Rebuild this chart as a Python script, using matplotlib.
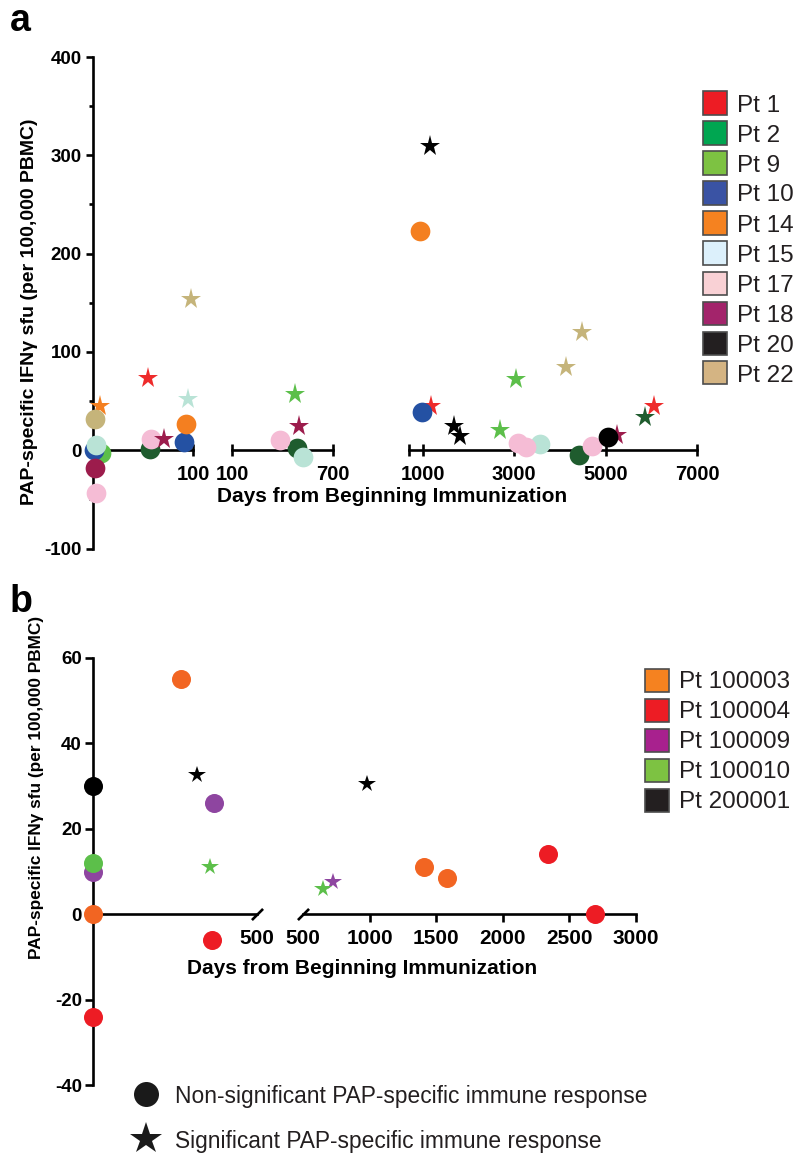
import matplotlib
matplotlib.use('Agg')
import matplotlib.pyplot as plt
from matplotlib.patches import Rectangle
from matplotlib.lines import Line2D

plt.rcParams['font.family'] = ['Liberation Sans', 'DejaVu Sans']
plt.rcParams['axes.unicode_minus'] = False

W, H = 800, 1157

# ---- panel a data ----
patients_a = ['Pt 1', 'Pt 2', 'Pt 9', 'Pt 10', 'Pt 14', 'Pt 15', 'Pt 17', 'Pt 18', 'Pt 20', 'Pt 22']
legend_colors_a = ['#ed1c24', '#00a651', '#7dc242', '#3a53a4', '#f58220',
                   '#dcf0fb', '#f9d1d5', '#a3246b', '#231f20', '#d4b483']
point_colors_a = ['#ee2b2b', '#1f5c2e', '#5cbf4a', '#2451a3', '#f47f20',
                  '#b9e3d6', '#f5bcd5', '#9c1c4c', '#000000', '#c5b47a']
days_a = [
    [55, 1190, 6060],
    [57, 486, 4425, 5860],
    [8, 474, 2700, 3050],
    [1, 91, 993],
    [7, 93, 934],
    [3, 95, 522, 3560],
    [3, 58, 385, 3087, 3270, 4695],
    [2, 71, 498, 5255],
    [1169, 1680, 1826, 5060],
    [2, 98, 4130, 4475],
]
sfu_a = [
    [73, 45, 45],
    [1, 2, -5, 34],
    [-3, 57, 21, 72],
    [0, 8, 39],
    [45, 27, 223],
    [5, 52, -7, 6],
    [-44, 11, 10, 7, 3, 4],
    [-18, 11, 25, 15],
    [309, 25, 14, 13],
    [32, 154, 85, 120],
]
sig_a = [
    [1, 1, 1],
    [0, 0, 0, 1],
    [0, 1, 1, 1],
    [0, 0, 0],
    [1, 0, 0],
    [0, 1, 0, 0],
    [0, 0, 0, 0, 0, 0],
    [0, 1, 1, 1],
    [1, 1, 1, 0],
    [0, 1, 1, 1],
]
segments_a = [(0, 100), (100, 700), (700, 7000)]
xticks_a = [[100], [100, 700], [700, 1000, 3000, 5000, 7000]]
xticklabels_a = [['100'], ['100', '700'], ['', '1000', '3000', '5000', '7000']]

# ---- panel b data ----
patients_b = ['Pt 100003', 'Pt 100004', 'Pt 100009', 'Pt 100010', 'Pt 200001']
legend_colors_b = ['#f58220', '#ed1c24', '#a8218e', '#7dc242', '#231f20']
point_colors_b = ['#f26522', '#ed1c24', '#8e45a0', '#5cbf4a', '#000000']
days_b = [
    [0, 268, 1407, 1582],
    [0, 363, 2342, 2689],
    [0, 370, 727],
    [0, 357, 648],
    [0, 316, 982],
]
sfu_b = [
    [0, 55, 11, 8.5],
    [-24, -6, 14, 0],
    [10, 26, 7.5],
    [12, 11, 6],
    [30, 32.5, 30.5],
]
sig_b = [
    [0, 0, 0, 0],
    [0, 0, 0, 0],
    [0, 0, 1],
    [0, 1, 1],
    [0, 1, 1],
]
segments_b = [(0, 500), (500, 3000)]
xticks_b = [[500], [500, 1000, 1500, 2000, 2500, 3000]]

ylabel_txt = 'PAP-specific IFNγ sfu (per 100,000 PBMC)'
xlabel_txt = 'Days from Beginning Immunization'


fig = plt.figure(figsize=(W / 100, H / 100), dpi=100)


def px_axes(x0, x1, ytop, ybot):
    return fig.add_axes([x0 / W, 1 - ybot / H, (x1 - x0) / W, (ybot - ytop) / H])


def style_axes(ax, first):
    ax.patch.set_visible(False)
    for s in ['top', 'right']:
        ax.spines[s].set_visible(False)
    ax.spines['bottom'].set_position(('data', 0))
    ax.spines['bottom'].set_linewidth(1.9)
    ax.spines['left'].set_linewidth(1.9)
    if not first:
        ax.spines['left'].set_visible(False)
        ax.tick_params(axis='y', left=False, labelleft=False, which='both')


# ---- panel a ----
seg_px_a = [(93, 193), (232, 333), (409, 697)]
axes_a = []
for k in range(3):
    ax = px_axes(seg_px_a[k][0], seg_px_a[k][1], 57, 548.5)
    ax.set_xlim(segments_a[k])
    ax.set_ylim(-100, 400)
    style_axes(ax, k == 0)
    ax.set_xticks(xticks_a[k])
    ax.set_xticklabels(xticklabels_a[k], fontsize=14.5, fontweight='bold')
    ax.tick_params(axis='x', direction='inout', length=8, width=1.9, pad=7)
    axes_a.append(ax)

axes_a[0].set_yticks(range(-100, 401, 100))
axes_a[0].set_yticks(range(-50, 401, 100), minor=True)
axes_a[0].tick_params(axis='y', which='major', direction='out', length=5, width=1.9, pad=3,
                      labelsize=13.5)
axes_a[0].tick_params(axis='y', which='minor', direction='out', length=3, width=1.9)
for lab in axes_a[0].get_yticklabels():
    lab.set_fontweight('bold')

for i in range(len(patients_a)):
    for d, v, s in zip(days_a[i], sfu_a[i], sig_a[i]):
        k = 0 if d <= 100 else (1 if d <= 700 else 2)
        axes_a[k].plot([d], [v], marker='*' if s else 'o', ms=15.5 if s else 14.2,
                       color=point_colors_a[i], mew=0, ls='none', clip_on=False, zorder=3)

# ---- panel b ----
seg_px_b = [(93, 257), (303, 636)]
axes_b = []
for k in range(2):
    ax = px_axes(seg_px_b[k][0], seg_px_b[k][1], 658, 1085)
    ax.set_xlim(segments_b[k])
    ax.set_ylim(-40, 60)
    style_axes(ax, k == 0)
    ax.set_xticks(xticks_b[k])
    ax.set_xticklabels([str(t) for t in xticks_b[k]], fontsize=15, fontweight='bold')
    ax.tick_params(axis='x', direction='out', length=6, width=1.9, pad=5)
    ax.xaxis.get_major_ticks()[0].tick1line.set_visible(False)
    # axis break slash
    ax.plot([500], [0], marker=[(-1, -1), (1, 1)], ms=8, mec='k', mew=1.9,
            ls='none', clip_on=False, zorder=4)
    axes_b.append(ax)

axes_b[0].set_yticks(range(-40, 61, 20))
axes_b[0].tick_params(axis='y', direction='out', length=6, width=1.9, pad=2, labelsize=13.5)
for lab in axes_b[0].get_yticklabels():
    lab.set_fontweight('bold')

for i in range(len(patients_b)):
    for d, v, s in zip(days_b[i], sfu_b[i], sig_b[i]):
        k = 0 if d <= 500 else 1
        axes_b[k].plot([d], [v], marker='*' if s else 'o', ms=13 if s else 13.7,
                       color=point_colors_b[i], mew=0, ls='none', clip_on=False, zorder=3)

# ---- labels ----
fig.text(10 / W, 1 - 31 / H, 'a', fontsize=27, fontweight='bold', va='baseline')
fig.text(10 / W, 1 - 612 / H, 'b', fontsize=27, fontweight='bold', va='baseline')
fig.text(392 / W, 1 - 502 / H, xlabel_txt, fontsize=15, fontweight='bold',
         ha='center', va='baseline')
fig.text(362 / W, 1 - 974 / H, xlabel_txt, fontsize=15, fontweight='bold',
         ha='center', va='baseline')
fig.text(30 / W, 1 - 312 / H, ylabel_txt, fontsize=14, fontweight='bold',
         rotation=90, ha='center', va='center')
fig.text(37 / W, 1 - 787 / H, ylabel_txt, fontsize=12.4, fontweight='bold',
         rotation=90, ha='center', va='center')


# ---- colour legends ----
def color_legend(names, colors, x0, y0, step):
    for i, (n, c) in enumerate(zip(names, colors)):
        yc = y0 + i * step
        fig.add_artist(Rectangle((x0 / W, 1 - (yc + 11.5) / H), 24 / W, 23 / H,
                                 transform=fig.transFigure, facecolor=c,
                                 edgecolor='#4d4d4d', lw=1.2))
        fig.text((x0 + 34) / W, 1 - yc / H, n, fontsize=17.5, color='#231f20',
                 va='center_baseline')


color_legend(patients_a, legend_colors_a, 703, 103, 30)
color_legend(patients_b, legend_colors_b, 645, 680, 30)

# ---- marker legend ----
fig.add_artist(Line2D([146 / W], [1 - 1094 / H], marker='o', ms=18, color='#1a1a1a',
                      mew=0, transform=fig.transFigure))
fig.add_artist(Line2D([146 / W], [1 - 1139 / H], marker='*', ms=24, color='#1a1a1a',
                      mew=0, transform=fig.transFigure))
fig.text(175 / W, 1 - 1094 / H, 'Non-significant PAP-specific immune response',
         fontsize=16.4, color='#231f20', va='center_baseline')
fig.text(175 / W, 1 - 1139 / H, 'Significant PAP-specific immune response',
         fontsize=16.4, color='#231f20', va='center_baseline')

fig.savefig('out.png', dpi=100)
